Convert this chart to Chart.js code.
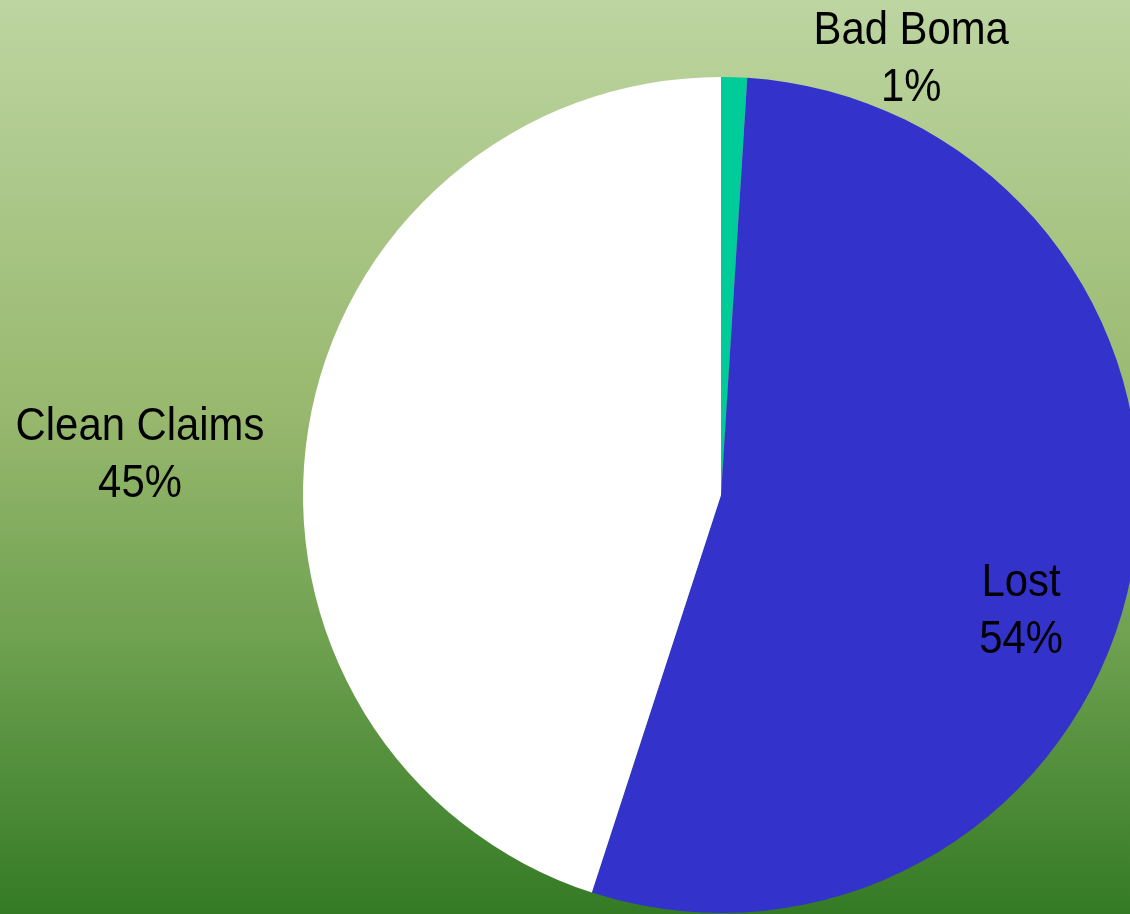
<!DOCTYPE html>
<html>
<head>
<meta charset="utf-8">
<script src="https://cdn.jsdelivr.net/npm/chart.js@4/dist/chart.umd.min.js"></script>
<style>
  html, body { margin: 0; padding: 0; width: 1130px; height: 914px; overflow: hidden; }
  body { background: linear-gradient(to bottom, #BDD5A1 0%, #98B86E 45%, #6EA150 70%, #347A24 100%); }
  #wrap { position: absolute; left: 0; top: 0; width: 1442px; height: 914px; }
</style>
</head>
<body>
<div id="wrap"><canvas id="c"></canvas></div>
<script>
const categories = ["Bad Boma", "Lost", "Clean Claims"];
const values = [1, 54, 45];
const percentLabels = ["1%", "54%", "45%"];
const sliceColors = ["#00CC99", "#3333CC", "#FFFFFF"];

// label anchor offsets relative to pie centre, in units of radius
const labelAnchors = [
  { fx: 0.455, fy: -1.051 },
  { fx: 0.718, fy: 0.269 },
  { fx: -1.390, fy: -0.104 }
];

const labelPlugin = {
  id: 'pieLabels',
  afterDatasetsDraw(chart) {
    const ctx = chart.ctx;
    const meta = chart.getDatasetMeta(0);
    const sx = 0.89;
    ctx.save();
    ctx.font = '47px "Liberation Sans", "DejaVu Sans", sans-serif';
    ctx.fillStyle = '#000000';
    ctx.textAlign = 'center';
    ctx.textBaseline = 'alphabetic';
    meta.data.forEach((arc, i) => {
      const r = arc.outerRadius;
      const a = labelAnchors[i];
      const x = arc.x + a.fx * r;
      const y = arc.y + a.fy * r;
      ctx.save();
      ctx.translate(x, 0);
      ctx.scale(sx, 1);
      ctx.fillText(categories[i], 0, y - 11.5);
      ctx.fillText(percentLabels[i], 0, y + 45.5);
      ctx.restore();
    });
    ctx.restore();
  }
};

new Chart(document.getElementById('c'), {
  type: 'pie',
  data: {
    labels: categories,
    datasets: [{
      data: values,
      backgroundColor: sliceColors,
      borderWidth: 0
    }]
  },
  options: {
    responsive: true,
    maintainAspectRatio: false,
    animation: false,
    layout: { padding: { top: 77, bottom: 1, left: 0, right: 0 } },
    plugins: {
      legend: { display: false },
      tooltip: { enabled: false }
    }
  },
  plugins: [labelPlugin]
});
</script>
</body>
</html>
